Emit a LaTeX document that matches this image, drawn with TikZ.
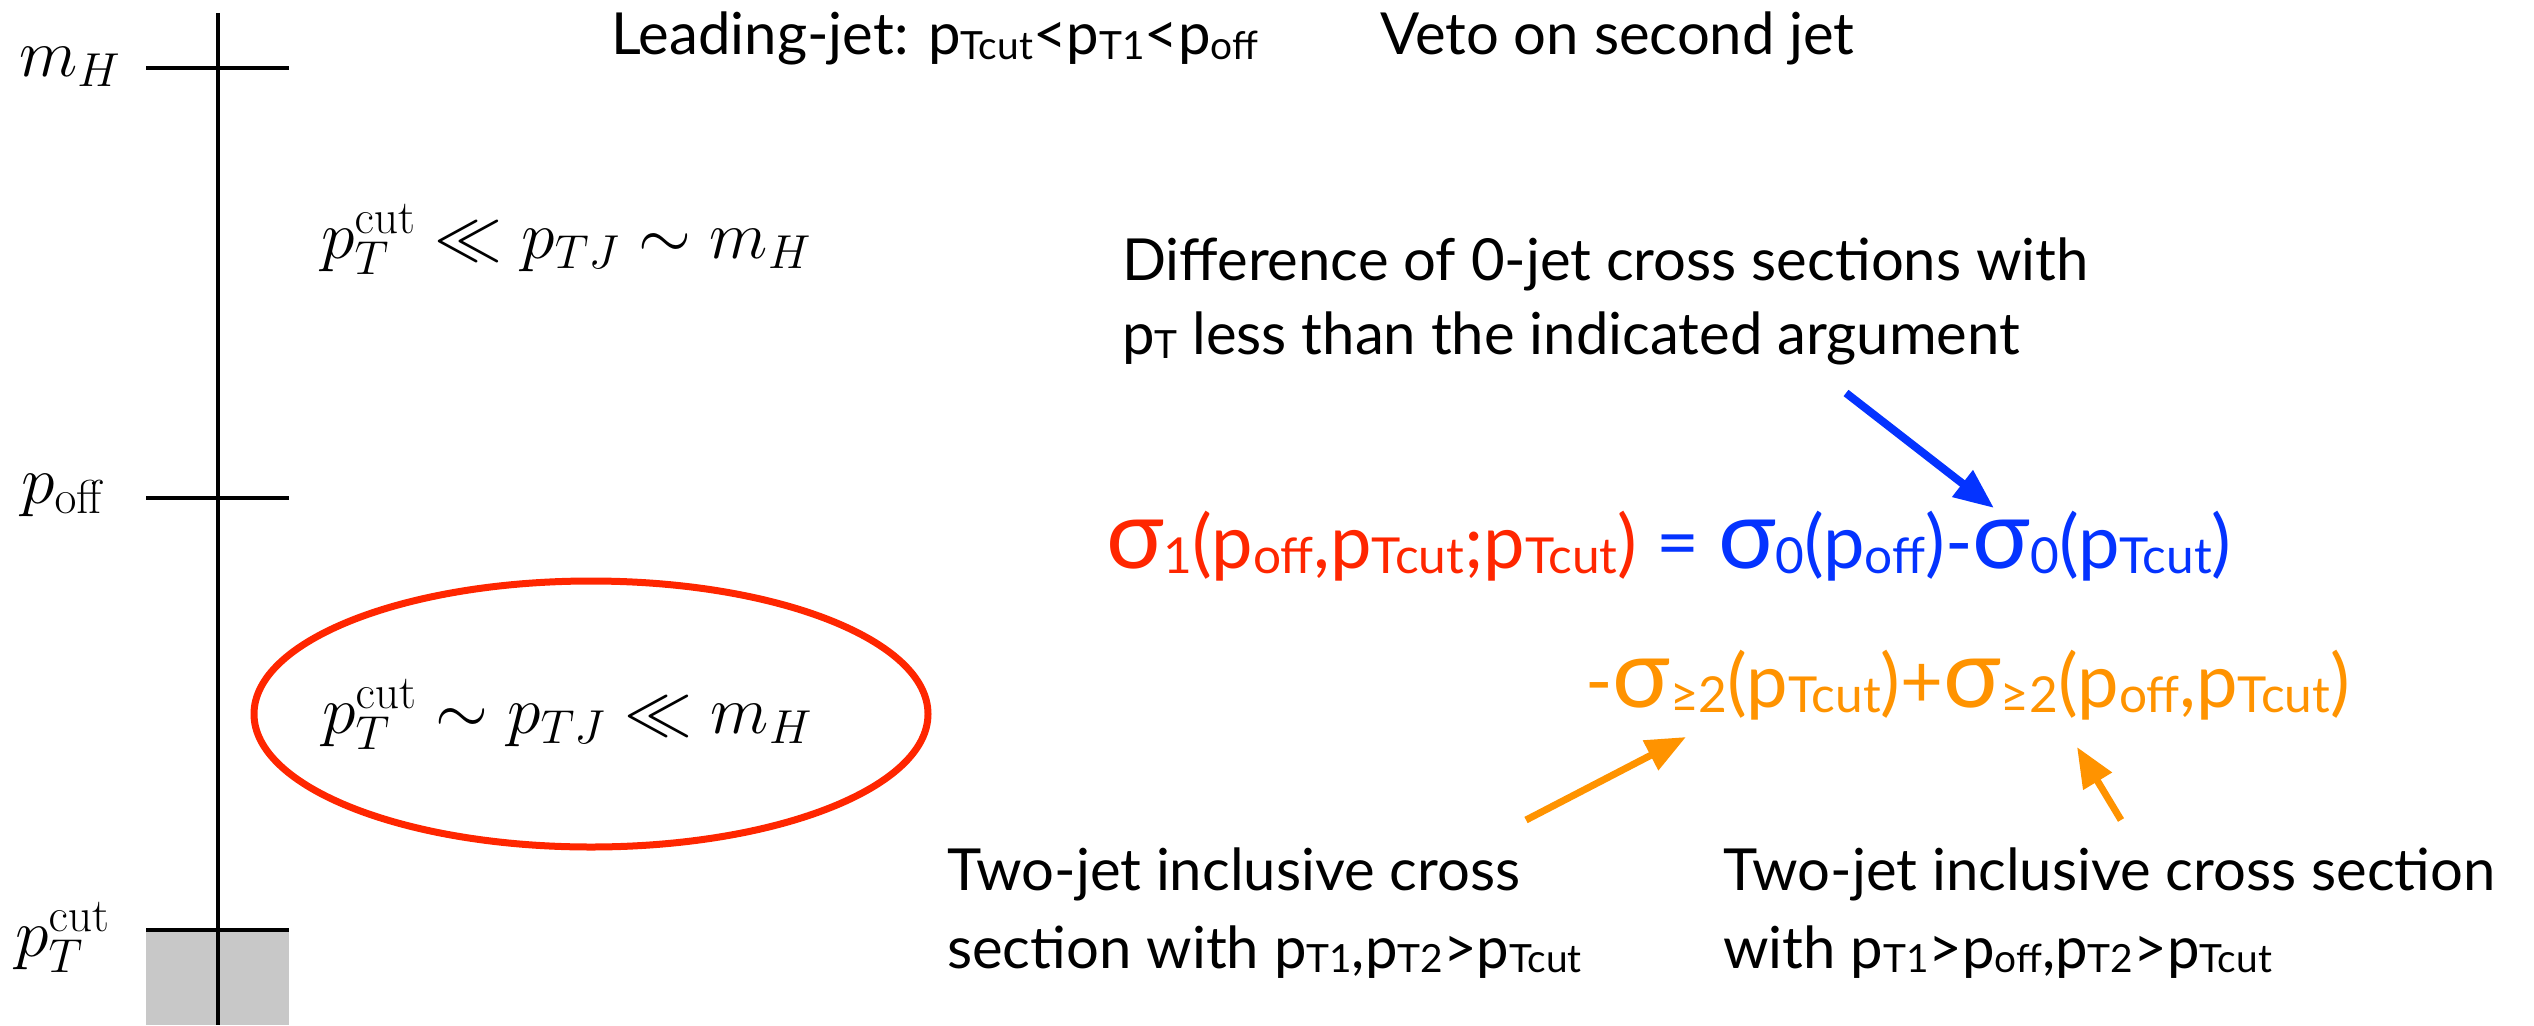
\RequirePackage{fix-cm}
\documentclass[tikz,border=0pt]{standalone}
\usepackage[no-math]{fontspec}
\usepackage{graphicx}
\newfontfamily\gill{Lato}
\usetikzlibrary{arrows.meta}
\definecolor{kred}{HTML}{FF2600}
\definecolor{kblue}{HTML}{0433FF}
\definecolor{korange}{HTML}{FF9300}
\definecolor{boxgray}{RGB}{200,200,200}
\newcommand\sbs[1]{\raisebox{-0.08em}{\scalebox{0.67}{#1}}}
\newcommand\sig{\scalebox{1.3}{σ}}
\tikzset{
  txt/.style={font=\gill\fontsize{58}{70}\selectfont, anchor=base west, inner sep=0pt},
  eqt/.style={font=\gill\fontsize{74}{88}\selectfont, anchor=base west, inner sep=0pt},
  mth/.style={font=\fontsize{68}{80}\selectfont, anchor=base west, inner sep=0pt},
  arr/.style={line width=8pt, -{Triangle[length=40pt,width=32pt]}},
  tick/.style={line width=4.5pt},
}
\begin{document}
\begin{tikzpicture}[x=1pt,y=-1pt]
\useasboundingbox (0,0) rectangle (2534,1025);
% scale
\fill[boxgray] (146,930) rectangle (289,1025);
\draw[line width=3.5pt] (218,13) -- (218,1025);
\draw[tick] (146,68) -- (289,68);
\draw[tick] (146,498) -- (289,498);
\draw[tick] (146,930) -- (289,930);
\node[mth] (lmh) at (19,76) {$m_H$};
\node[mth] (lpoff) at (21,503) {$p_{\mathrm{off}}$};
\node[mth] (lpcut) at (15,956) {$p_T^{\mathrm{cut}}$};
\node[mth] (reg1) at (321,258) {$p_T^{\mathrm{cut}} \ll p_{TJ} \sim m_H$};
\node[mth] (reg2) at (322,733) {$p_T^{\mathrm{cut}} \sim p_{TJ} \ll m_H$};
\draw[kred, line width=7pt] (591,714) ellipse [x radius=337pt, y radius=133pt];
% top texts
\node[txt] (lead) at (611,55) {Leading-jet: p\sbs{Tcut}<p\sbs{T1}<p\sbs{off}};
\node[txt] (veto) at (1380,55) {Veto on second jet};
\node[txt] (diff1) at (1122,280) {Difference of 0-jet cross sections with};
\node[txt] (diff2) at (1122,354) {p\sbs{T} less than the indicated argument};
% equation
\node[eqt] (eq) at (1106,568) {{\color{kred}\sig\sbs{1}(p\sbs{off},p\sbs{Tcut};p\sbs{Tcut})} {\color{kblue}= \sig\sbs{0}(p\sbs{off})-\sig\sbs{0}(p\sbs{Tcut})}};
\node[eqt, text=korange] (eq2) at (1585,707) {-\sig\sbs{≥2}(p\sbs{Tcut})+\sig\sbs{≥2}(p\sbs{off},p\sbs{Tcut})};
% bottom texts
\node[txt] (bl1) at (947,890) {Two-jet inclusive cross};
\node[txt] (bl2) at (947,968) {section with p\sbs{T1},p\sbs{T2}>p\sbs{Tcut}};
\node[txt] (br1) at (1723,890) {Two-jet inclusive cross section};
\node[txt] (br2) at (1723,968) {with p\sbs{T1}>p\sbs{off},p\sbs{T2}>p\sbs{Tcut}};
% arrows
\coordinate (bt) at (1846,393);
\coordinate (bh) at (1994,508);
\coordinate (o1t) at (1526,820);
\coordinate (o1h) at (1686,737);
\coordinate (o2t) at (2121,820);
\coordinate (o2h) at (2077,747);
\draw[arr, kblue] (bt) -- (bh);
\draw[arr, korange, line width=7pt] (o1t) -- (o1h);
\draw[arr, korange, line width=7pt] (o2t) -- (o2h);
\end{tikzpicture}
\end{document}
